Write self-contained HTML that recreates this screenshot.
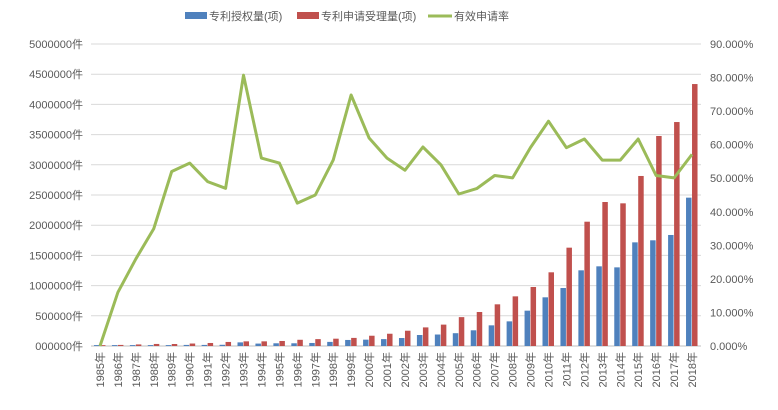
<!DOCTYPE html>
<html><head><meta charset="utf-8"><style>
html,body{margin:0;padding:0;background:#fff}
svg{display:block;font-family:"Liberation Sans","Noto Sans CJK SC",sans-serif}
</style></head><body>
<svg id="chart" width="778" height="410" viewBox="0 0 778 410" xmlns="http://www.w3.org/2000/svg">
<g id="legend" font-size="11" fill="#595959">
<g><rect x="185" y="12" width="22" height="7" fill="#4f81bd"/><text x="209" y="20">专利授权量(项)</text></g>
<g><rect x="297" y="12" width="22" height="7" fill="#c0504d"/><text x="321" y="20">专利申请受理量(项)</text></g>
<g><line x1="428" y1="16" x2="452" y2="16" stroke="#9bbb59" stroke-width="3"/><text x="454" y="20">有效申请率</text></g>
</g>
<g id="grid"></g><g id="bars"></g><g id="line"></g><g id="axes"></g>
</svg>
<script>
const years=["1985年","1986年","1987年","1988年","1989年","1990年","1991年","1992年","1993年","1994年","1995年","1996年","1997年","1998年","1999年","2000年","2001年","2002年","2003年","2004年","2005年","2006年","2007年","2008年","2009年","2010年","2011年","2012年","2013年","2014年","2015年","2016年","2017年","2018年"];
const granted=[15000,15000,15000,15000,15000,18000,18000,20000,60000,40000,45000,45000,50000,68000,100000,105000,114000,132000,182000,190000,212000,260000,342000,408000,585000,806000,960000,1253000,1319000,1302000,1716000,1750000,1838000,2456000];
const applications=[14000,18000,26000,34000,33000,41000,50000,67000,77000,77000,83000,103000,114000,121000,134000,170000,203000,253000,308000,354000,478000,563000,690000,822000,977000,1220000,1628000,2058000,2384000,2362000,2815000,3477000,3708000,4337000];
const rate=[0,16,26,35,52,54.5,49,47,80.7,56,54.5,42.6,45,55.4,74.8,62,56,52.4,59.3,54,45.3,46.9,50.8,50.1,59.2,67,59.1,61.7,55.4,55.4,61.7,50.8,50.1,57.1];
const leftTicks=["000000件","500000件","1000000件","1500000件","2000000件","2500000件","3000000件","3500000件","4000000件","4500000件","5000000件"];
const rightTicks=["0.000%","10.000%","20.000%","30.000%","40.000%","50.000%","60.000%","70.000%","80.000%","90.000%"];
const NS="http://www.w3.org/2000/svg";
const X0=91,X1=701,Y0=346,Y1=44;
const band=(X1-X0)/years.length;
const xc=i=>X0+band*(i+0.5);
const yL=v=>Y0-(v/5000000)*(Y0-Y1);
const yR=v=>Y0-(v/90)*(Y0-Y1);
function mk(tag,attrs,parent){const e=document.createElementNS(NS,tag);for(const k in attrs)e.setAttribute(k,attrs[k]);document.getElementById(parent).appendChild(e);return e;}
leftTicks.forEach((t,i)=>{const y=yL(i*500000);
 const g=mk('line',{x1:X0,x2:X1,y1:y,y2:y,stroke:i===0?'#bfbfbf':'#d9d9d9','stroke-width':1},'grid');
 
 
 const tx=mk('text',{x:83,y:y+4,'text-anchor':'end','font-size':11,fill:'#595959'},'axes');tx.textContent=t;
 
 
});
rightTicks.forEach((t,i)=>{const y=yR(i*10);
 const tx=mk('text',{x:710,y:y+4,'font-size':11,fill:'#595959'},'axes');tx.textContent=t;
 
 
});
years.forEach((yr,i)=>{const c=xc(i);
 const b1=mk('rect',{x:c-6,y:yL(granted[i]),width:5.5,height:Y0-yL(granted[i]),fill:'#4f81bd'},'bars');
 
 
 const b2=mk('rect',{x:c,y:yL(applications[i]),width:5.5,height:Y0-yL(applications[i]),fill:'#c0504d'},'bars');
 
 
 const tx=mk('text',{x:0,y:0,'font-size':11,fill:'#595959','text-anchor':'end',transform:`translate(${c+4},352) rotate(-90)`},'axes');tx.textContent=yr;
 
 
});
const pts=rate.map((v,i)=>xc(i).toFixed(1)+','+yR(v).toFixed(1)).join(' ');
const pl=mk('polyline',{points:pts,fill:'none',stroke:'#9bbb59','stroke-width':3,'stroke-linejoin':'round'},'line');


</script>
</body></html>
